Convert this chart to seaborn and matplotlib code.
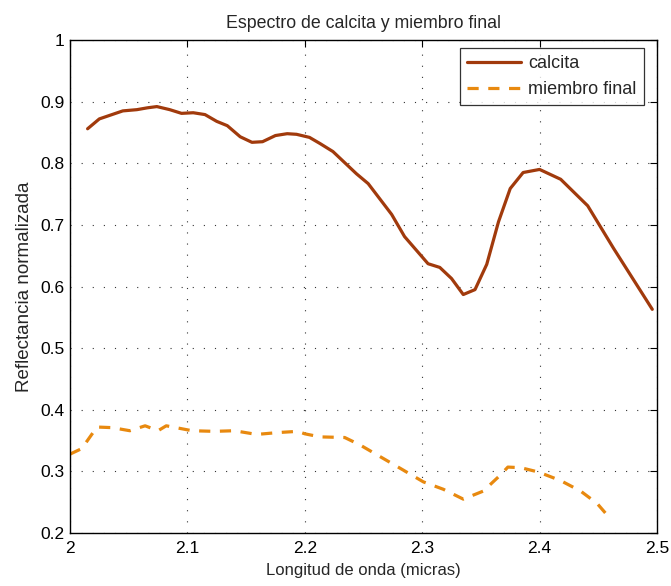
import matplotlib
matplotlib.use("Agg")
import matplotlib.pyplot as plt
import matplotlib.ticker as mticker
import numpy as np
import pandas as pd
import seaborn as sns

# Calcite spectrum (wavelength in microns, normalized reflectance)
calcita_x = [2.015, 2.025, 2.045, 2.057, 2.066, 2.074, 2.085, 2.095, 2.105, 2.115,
             2.125, 2.134, 2.145, 2.155, 2.164, 2.175, 2.185, 2.193, 2.204, 2.213,
             2.224, 2.244, 2.254, 2.274, 2.285, 2.305, 2.315, 2.325, 2.335, 2.345,
             2.355, 2.365, 2.375, 2.386, 2.400, 2.418, 2.441, 2.463, 2.496]
calcita_y = [0.856, 0.872, 0.885, 0.887, 0.890, 0.892, 0.887, 0.881, 0.882, 0.879,
             0.868, 0.861, 0.843, 0.834, 0.835, 0.845, 0.848, 0.847, 0.842, 0.832,
             0.819, 0.783, 0.767, 0.717, 0.681, 0.637, 0.631, 0.613, 0.587, 0.595,
             0.636, 0.705, 0.759, 0.785, 0.790, 0.774, 0.731, 0.662, 0.563]

# End-member spectrum
miembro_x = [2.000, 2.010, 2.023, 2.036, 2.051, 2.064, 2.075, 2.082, 2.093, 2.104,
             2.123, 2.140, 2.159, 2.177, 2.194, 2.200, 2.213, 2.234, 2.247, 2.284,
             2.301, 2.318, 2.335, 2.352, 2.366, 2.373, 2.384, 2.399, 2.418, 2.435,
             2.449, 2.459]
miembro_y = [0.328, 0.337, 0.372, 0.371, 0.366, 0.374, 0.366, 0.374, 0.370, 0.366,
             0.365, 0.366, 0.360, 0.363, 0.365, 0.361, 0.356, 0.355, 0.343, 0.302,
             0.283, 0.271, 0.255, 0.268, 0.293, 0.307, 0.306, 0.299, 0.285, 0.268,
             0.248, 0.226]

x_ticks = [2.0, 2.1, 2.2, 2.3, 2.4, 2.5]
y_ticks = [0.2, 0.3, 0.4, 0.5, 0.6, 0.7, 0.8, 0.9, 1.0]

sns.set_style("white")
plt.rcParams["font.family"] = ["Liberation Sans", "DejaVu Sans"]

df_c = pd.DataFrame({"x": calcita_x, "y": calcita_y})
df_m = pd.DataFrame({"x": miembro_x, "y": miembro_y})

fig = plt.figure(figsize=(6.71, 5.86), dpi=100)
ax = fig.add_axes([0.1043, 0.0904, 0.8748, 0.8413])

dash = [3.5, 3.0]
sns.lineplot(data=df_c, x="x", y="y", ax=ax, color="#a13a0c", linewidth=2.3,
             label="calcita", sort=False)
sns.lineplot(data=df_m, x="x", y="y", ax=ax, color="#e8890f", linewidth=2.3,
             label="miembro final", sort=False)
ax.lines[1].set_dashes(dash)

ax.set_xlim(2.0, 2.5)
ax.set_ylim(0.2, 1.0)
ax.set_xticks(x_ticks)
ax.set_yticks(y_ticks)
fmt = mticker.FuncFormatter(lambda v, p: f"{v:g}")
ax.xaxis.set_major_formatter(fmt)
ax.yaxis.set_major_formatter(fmt)
ax.tick_params(direction="in", length=5, width=0.8, labelsize=12.5, colors="black",
               top=True, right=True, pad=4)
ax.tick_params(axis="x", pad=6)

ax.grid(True, color="#333333", linestyle=(0, (1, 9)), linewidth=0.8)
for s in ax.spines.values():
    s.set_visible(True)
    s.set_color("black")
    s.set_linewidth(1.0)

ax.set_xlabel("Longitud de onda (micras)", fontsize=12, labelpad=5)
ax.set_ylabel("Reflectancia normalizada", fontsize=13.5, labelpad=5)
ax.set_title("Espectro de calcita y miembro final", fontsize=12.8, pad=9)

leg = ax.legend(loc="upper right", bbox_to_anchor=(644 / 671, 1 - 48 / 586),
                bbox_transform=fig.transFigure, fontsize=13, frameon=True,
                fancybox=False, edgecolor="black", handlelength=3.0,
                borderaxespad=0.0, borderpad=0.4, labelspacing=0.5,
                handletextpad=0.4)
leg.get_frame().set_linewidth(0.9)
leg.get_lines()[1].set_dashes(dash)

fig.savefig("out.png", dpi=100)
